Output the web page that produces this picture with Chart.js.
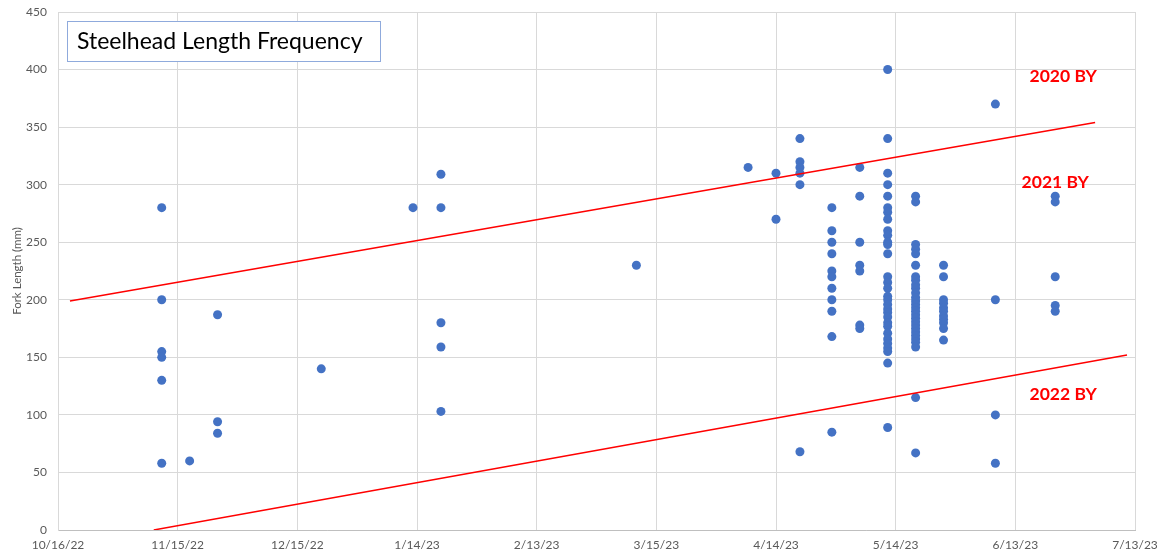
<!DOCTYPE html>
<html>
<head>
<meta charset="utf-8">
<title>Steelhead Length Frequency</title>
<script src="https://cdn.jsdelivr.net/npm/chart.js@4"></script>
<style>
  html, body { margin: 0; padding: 0; background: #fff; }
  #wrap { width: 1161px; height: 558px; }
</style>
</head>
<body>
<div id="wrap"><canvas id="chart"></canvas></div>
<script>
// x values are Excel-style day numbers (10/16/22 = 44850)
const xTickLabels = ["10/16/22", "11/15/22", "12/15/22", "1/14/23", "2/13/23",
  "3/15/23", "4/14/23", "5/14/23", "6/13/23", "7/13/23"];
const xStart = 44850;
const xEnd = 45120;
const yTicks = [0, 50, 100, 150, 200, 250, 300, 350, 400, 450];

const sampleDays = [44876, 44883, 44890, 44916, 44939, 44946, 44995, 45023, 45030,
  45036, 45044, 45051, 45058, 45065, 45072, 45085, 45100];

const forkLengths = [
  [280, 200, 155, 150, 130, 58],
  [60],
  [187, 94, 84],
  [140],
  [280],
  [309, 280, 180, 159, 103],
  [230],
  [315],
  [310, 270],
  [340, 320, 315, 310, 300, 68],
  [280, 260, 250, 240, 225, 220, 210, 200, 190, 168, 85],
  [315, 290, 250, 230, 225, 178, 175],
  [400, 340, 310, 300, 290, 280, 276, 270, 260, 256, 250, 248, 240, 220, 215, 210,
    203, 200, 196, 192, 189, 185, 180, 177, 171, 166, 162, 158, 155, 145, 89],
  [290, 285, 248, 244, 240, 230, 220, 217, 213, 210, 206, 202, 199, 196, 193, 190,
    187, 184, 181, 178, 175, 172, 169, 166, 163, 159, 115, 67],
  [230, 220, 200, 197, 193, 190, 186, 183, 180, 175, 165],
  [370, 200, 100, 58],
  [290, 285, 220, 195, 190],
];

// brood year divider lines
const upperLineX = [44853, 45110];
const upperLineY = [199, 354];
const lowerLineX = [44874, 45118];
const lowerLineY = [0, 152];

const byLabels = ["2020 BY", "2021 BY", "2022 BY"];
const byLabelX = [45102, 45100, 45102];
const byLabelY = [394, 302, 118];

const chartTitle = "Steelhead Length Frequency";

const points = [];
sampleDays.forEach((day, i) => {
  forkLengths[i].forEach((len) => {
    points.push({ x: day, y: len });
  });
});

const labelPlugin = {
  id: "labelPlugin",
  afterDatasetsDraw(chart) {
    const ctx = chart.ctx;
    const xs = chart.scales.x;
    const ys = chart.scales.y;
    const area = chart.chartArea;
    ctx.save();
    // title box
    ctx.fillStyle = "#fff";
    ctx.fillRect(area.left + 9, area.top + 9, 313, 40);
    ctx.strokeStyle = "#8faadc";
    ctx.lineWidth = 1;
    ctx.strokeRect(area.left + 9.5, area.top + 9.5, 313, 40);
    ctx.fillStyle = "#000";
    ctx.font = "23px Lato";
    ctx.textBaseline = "middle";
    ctx.textAlign = "left";
    ctx.fillText(chartTitle, area.left + 19, area.top + 30);
    // BY labels
    ctx.fillStyle = "#ff0000";
    ctx.font = "bold 17.5px Lato";
    ctx.textAlign = "center";
    byLabels.forEach((txt, i) => {
      ctx.fillText(txt, xs.getPixelForValue(byLabelX[i]), ys.getPixelForValue(byLabelY[i]));
    });
    ctx.restore();
  },
};

function noPadding(scale) {
  scale.paddingTop = 0;
  scale.paddingBottom = 0;
  scale.paddingLeft = 0;
  scale.paddingRight = 0;
}

const ctx = document.getElementById("chart").getContext("2d");
new Chart(ctx, {
  type: "scatter",
  data: {
    datasets: [
      {
        label: "upper",
        data: upperLineX.map((x, i) => ({ x, y: upperLineY[i] })),
        showLine: true,
        borderColor: "#ff0000",
        borderWidth: 1.5,
        pointRadius: 0,
      },
      {
        label: "lower",
        data: lowerLineX.map((x, i) => ({ x, y: lowerLineY[i] })),
        showLine: true,
        borderColor: "#ff0000",
        borderWidth: 1.5,
        pointRadius: 0,
      },
      {
        label: "Fork length",
        data: points,
        backgroundColor: "#4472c4",
        borderColor: "#4472c4",
        borderWidth: 0,
        pointRadius: 4.5,
      },
    ],
  },
  options: {
    responsive: true,
    maintainAspectRatio: false,
    animation: false,
    layout: { padding: { top: 12, right: 26, left: 0, bottom: 0 } },
    plugins: {
      legend: { display: false },
      tooltip: { enabled: false },
    },
    scales: {
      x: {
        type: "linear",
        min: xStart,
        max: xEnd,
        afterFit(scale) { scale.height = 28; noPadding(scale); },
        grid: { color: "#d9d9d9", drawTicks: false },
        border: { color: "#bfbfbf" },
        ticks: {
          stepSize: 30,
          padding: 8,
          color: "#595959",
          font: { family: "Lato", size: 12 },
          maxRotation: 0,
          callback: (v) => xTickLabels[Math.round((v - xStart) / 30)],
        },
      },
      y: {
        min: 0,
        max: 450,
        afterFit(scale) { scale.width = 58; noPadding(scale); },
        afterBuildTicks(scale) { scale.ticks = yTicks.map((v) => ({ value: v })); },
        grid: { color: "#d9d9d9", drawTicks: false },
        border: { color: "#d9d9d9" },
        title: {
          display: true,
          text: "Fork Length (mm)",
          color: "#595959",
          font: { family: "Lato", size: 11.5 },
          padding: { top: 10, bottom: 0 },
        },
        ticks: {
          padding: 11,
          color: "#595959",
          font: { family: "Lato", size: 12 },
        },
      },
    },
  },
  plugins: [labelPlugin],
});
</script>
</body>
</html>
